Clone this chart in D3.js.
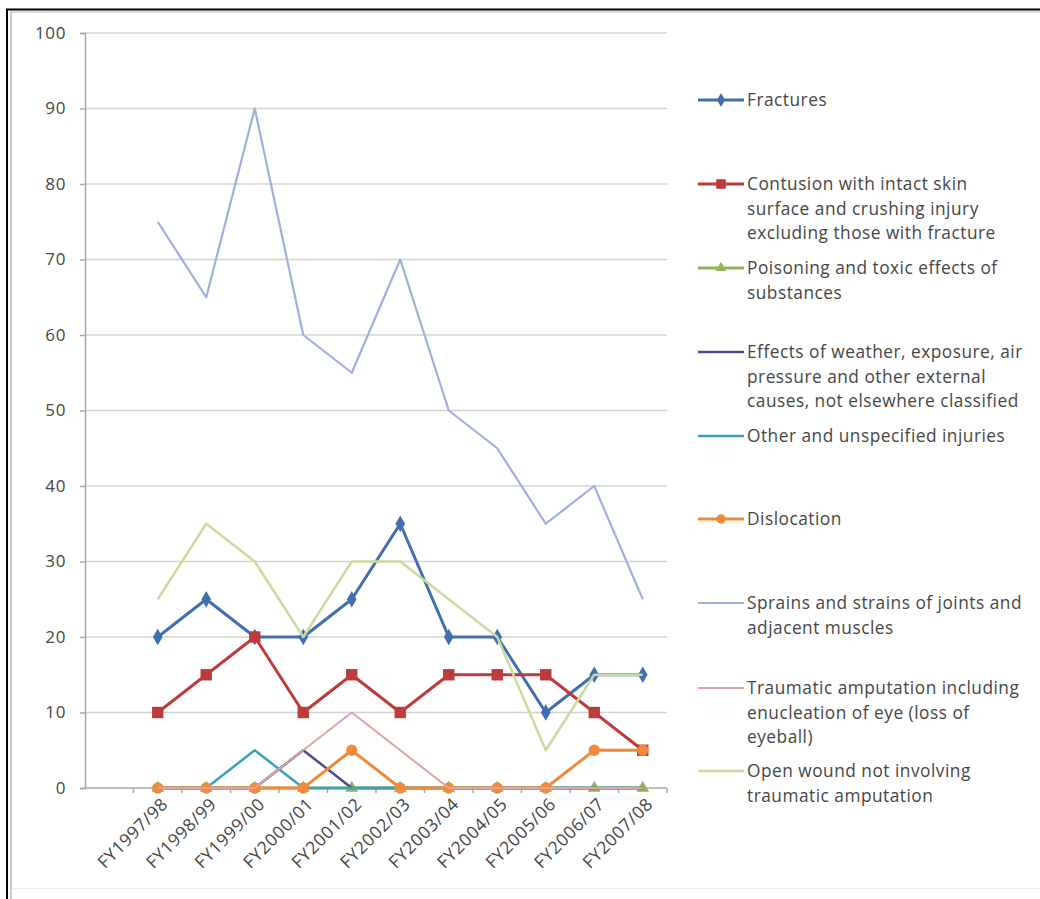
<!DOCTYPE html>
<html>
<head>
<meta charset="utf-8">
<script src="https://cdn.jsdelivr.net/npm/d3@7"></script>
<style>
  html, body { margin: 0; padding: 0; background: #fff; }
  svg { display: block; }
  text { font-family: "Open Sans", Lato, sans-serif; fill: #464646; }
</style>
</head>
<body>
<svg id="chart" width="1040" height="899"></svg>
<script>
const categories = ["FY1997/98","FY1998/99","FY1999/00","FY2000/01","FY2001/02","FY2002/03","FY2003/04","FY2004/05","FY2005/06","FY2006/07","FY2007/08"];
const yTicks = [0,10,20,30,40,50,60,70,80,90,100];

const fractures   = [20,25,20,20,25,35,20,20,10,15,15];
const contusion   = [10,15,20,10,15,10,15,15,15,10,5];
const poisoning   = [0,0,0,0,0,0,0,0,0,0,0];
const weather     = [0,0,0,5,0,0,0,0,0,0,0];
const otherInj    = [0,0,5,0,0,0,0,0,0,0,0];
const dislocation = [0,0,0,0,5,0,0,0,0,5,5];
const sprains     = [75,65,90,60,55,70,50,45,35,40,25];
const amputation  = [0,0,0,5,10,5,0,0,0,0,0];
const openWound   = [25,35,30,20,30,30,25,20,5,15,15];

const seriesNames = [
  ["Fractures"],
  ["Contusion with intact skin","surface and crushing injury","excluding those with fracture"],
  ["Poisoning and toxic effects of","substances"],
  ["Effects of weather, exposure, air","pressure and other external","causes, not elsewhere classified"],
  ["Other and unspecified injuries"],
  ["Dislocation"],
  ["Sprains and strains of joints and","adjacent muscles"],
  ["Traumatic amputation including","enucleation of eye (loss of","eyeball)"],
  ["Open wound not involving","traumatic amputation"]
];
const seriesValues = [fractures, contusion, poisoning, weather, otherInj, dislocation, sprains, amputation, openWound];
const seriesColors = ["#3f6fae","#be3b3b","#93b256","#4d4a8c","#3aa2b8","#f08a3a","#9fb0de","#e0a3a3","#c9dc9e"];
const seriesMarkers = ["diamond","square","triangle","none","none","circle","none","none","none"];
const seriesWidths = [3,3,3,2.5,2.5,3,2.2,2,2.5];

const svg = d3.select("#chart");

// frame
svg.append("rect").attr("x",0).attr("y",0).attr("width",1040).attr("height",899).attr("fill","#fff");
svg.append("line").attr("x1",6).attr("x2",1040).attr("y1",9.5).attr("y2",9.5).attr("stroke","#000").attr("stroke-width",2);
svg.append("line").attr("x1",7).attr("x2",7).attr("y1",9).attr("y2",899).attr("stroke","#000").attr("stroke-width",2);
svg.append("line").attr("x1",11).attr("x2",11).attr("y1",11).attr("y2",899).attr("stroke","#bbb").attr("stroke-width",1.5);
svg.append("line").attr("x1",12).attr("x2",1040).attr("y1",12).attr("y2",12).attr("stroke","#ccc").attr("stroke-width",1.5);
svg.append("line").attr("x1",12).attr("x2",1040).attr("y1",888.5).attr("y2",888.5).attr("stroke","#eee").attr("stroke-width",1);

const plotLeft = 85, plotRight = 667, plotTop = 33, plotBottom = 788;
const slot = (plotRight - plotLeft) / 12;

const x = d3.scaleBand().domain(categories).range([plotLeft + slot, plotRight]);
const cx = c => x(c) + x.bandwidth()/2;
const y = d3.scaleLinear().domain([0,100]).range([plotBottom, plotTop]);

// gridlines
svg.append("g").selectAll("line").data(yTicks.filter(t => t > 0)).join("line")
  .attr("x1", plotLeft).attr("x2", plotRight)
  .attr("y1", d => y(d)).attr("y2", d => y(d))
  .attr("stroke", "#d4d4d4").attr("stroke-width", 1.5);

// y axis
const yAxis = d3.axisLeft(y).tickValues(yTicks).tickSize(5).tickPadding(14);
const gy = svg.append("g").attr("transform", `translate(${plotLeft},0)`).call(yAxis);
gy.select(".domain").attr("stroke","#a8a8a8").attr("stroke-width",1.5);
gy.selectAll(".tick line").attr("stroke","#a8a8a8").attr("stroke-width",1.5);
gy.selectAll(".tick text").style("font-family","'Open Sans', sans-serif").style("font-size","17px")
  .style("letter-spacing","0.6px").attr("fill","#464646");

// x axis
const gx = svg.append("g").attr("transform", `translate(0,${plotBottom})`);
gx.append("line").attr("x1", plotLeft).attr("x2", plotRight).attr("stroke","#a8a8a8").attr("stroke-width",1.5);
const bounds = [plotLeft + slot].concat(categories.map(c => x(c) + x.bandwidth()));
gx.selectAll("line.tk").data(bounds).join("line").attr("class","tk")
  .attr("x1", d => d).attr("x2", d => d).attr("y1", 0).attr("y2", 5)
  .attr("stroke","#a8a8a8").attr("stroke-width",1.5);
gx.selectAll("text").data(categories).join("text")
  .attr("transform", d => `translate(${cx(d)+7},${13}) rotate(-45)`)
  .attr("text-anchor","end")
  .attr("dy","0.35em")
  .style("font-size","17.5px")
  .style("letter-spacing","0.6px")
  .text(d => d);

// lines
const symbolTypes = {diamond: d3.symbolDiamond, square: d3.symbolSquare, triangle: d3.symbolTriangle, circle: d3.symbolCircle};
const symbolSizes = {diamond: 80, square: 130, triangle: 70, circle: 100};
seriesValues.forEach((vals, i) => {
  const pts = categories.map((c, j) => [cx(c), y(vals[j])]);
  svg.append("path")
    .attr("d", d3.line()(pts))
    .attr("fill","none")
    .attr("stroke", seriesColors[i])
    .attr("stroke-width", seriesWidths[i])
    .attr("stroke-linejoin","round");
  const m = seriesMarkers[i];
  if (m !== "none") {
    svg.append("g").selectAll("path").data(pts).join("path")
      .attr("transform", d => `translate(${d[0]},${d[1]})`)
      .attr("d", d3.symbol().type(symbolTypes[m]).size(symbolSizes[m]))
      .attr("fill", seriesColors[i]);
  }
});

// legend
const legendLineY = [100, 184, 268, 352, 436, 519, 603, 688, 771];
const lineH = 24.5;
seriesNames.forEach((lines, i) => {
  const g = svg.append("g").attr("transform", `translate(0,${legendLineY[i]})`);
  g.append("line").attr("x1", 698).attr("x2", 744).attr("y1", 0).attr("y2", 0)
    .attr("stroke", seriesColors[i]).attr("stroke-width", seriesWidths[i]);
  const m = seriesMarkers[i];
  if (m !== "none") {
    g.append("path").attr("transform","translate(721,0)")
      .attr("d", d3.symbol().type(symbolTypes[m]).size(symbolSizes[m]*0.7))
      .attr("fill", seriesColors[i]);
  }
  lines.forEach((t, k) => {
    g.append("text").attr("x", 747).attr("y", k*lineH).attr("dy","0.35em")
      .style("font-size","17.3px").style("letter-spacing","0.5px").text(t);
  });
});
</script>
</body>
</html>
